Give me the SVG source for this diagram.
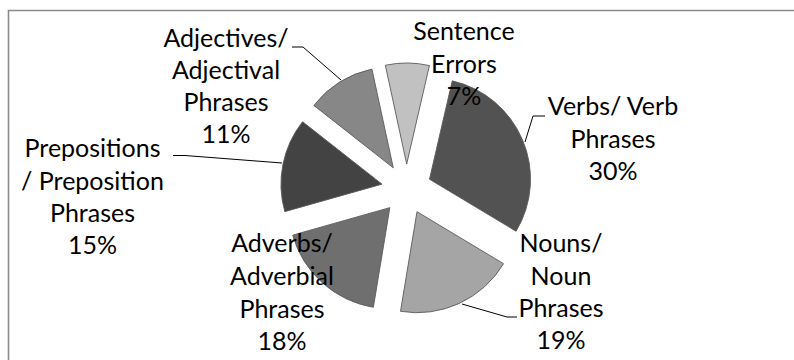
<svg xmlns="http://www.w3.org/2000/svg" width="794" height="360" viewBox="0 0 794 360">
<style>
.lbl{font-family:Lato,"Liberation Sans",sans-serif;font-size:25px;fill:#000;text-anchor:middle}
.slice{stroke:#5a5a5a;stroke-width:0.9}
.lead{fill:none;stroke:#000;stroke-width:1}
</style>
<rect width="794" height="360" fill="#fff"/>
<path d="M8.5,360 V10.5 H794" fill="none" stroke="#8a8a8a" stroke-width="1.6"/>
<g id="slice-verbs"><path class="slice" fill="#525252" d="M429.51,179.23 L452.24,80.82 A101,101 0 0 1 516.09,231.25 Z"/></g>
<g id="slice-nouns"><path class="slice" fill="#a5a5a5" d="M416.99,211.69 L503.57,263.71 A101,101 0 0 1 400.50,311.34 Z"/></g>
<g id="slice-adverbs"><path class="slice" fill="#6f6f6f" d="M389.84,207.64 L373.35,307.29 A101,101 0 0 1 292.66,235.14 Z"/></g>
<g id="slice-prepositions"><path class="slice" fill="#434343" d="M381.97,184.14 L284.79,211.64 A101,101 0 0 1 302.56,121.72 Z"/></g>
<g id="slice-adjectives"><path class="slice" fill="#878787" d="M393.25,167.8 L313.84,105.38 A101,101 0 0 1 371.91,69.08 Z"/></g>
<g id="slice-sentence"><path class="slice" fill="#c1c1c1" d="M406.68,164.0 L385.34,65.28 A101,101 0 0 1 429.41,65.59 Z"/></g>
<g id="connectors">
<path class="lead" d="M545,116 H533 L525,142"/>
<path class="lead" d="M517,317 H507 L462,304"/>
<path class="lead" d="M173,155.5 H185 L282,163"/>
<path class="lead" d="M292,47 H303 L341,80"/>
</g>
<g id="label-sentence"><text class="lbl" x="464" y="40">Sentence</text><text class="lbl" x="464" y="73">Errors</text><text class="lbl" x="464" y="105">7%</text></g>
<g id="label-verbs"><text class="lbl" x="613" y="115">Verbs/ Verb</text><text class="lbl" x="613" y="148">Phrases</text><text class="lbl" x="613" y="180">30%</text></g>
<g id="label-nouns"><text class="lbl" x="561" y="252">Nouns/</text><text class="lbl" x="561" y="285">Noun</text><text class="lbl" x="561" y="317">Phrases</text><text class="lbl" x="561" y="349">19%</text></g>
<g id="label-adverbs"><text class="lbl" x="282" y="252">Adverbs/</text><text class="lbl" x="282" y="285">Adverbial</text><text class="lbl" x="282" y="318">Phrases</text><text class="lbl" x="282" y="350">18%</text></g>
<g id="label-prepositions"><text class="lbl" x="92.5" y="157">Prepositions</text><text class="lbl" x="92.5" y="190">/ Preposition</text><text class="lbl" x="92.5" y="222">Phrases</text><text class="lbl" x="92.5" y="254">15%</text></g>
<g id="label-adjectives"><text class="lbl" x="226" y="47">Adjectives/</text><text class="lbl" x="226" y="79">Adjectival</text><text class="lbl" x="226" y="111">Phrases</text><text class="lbl" x="226" y="143">11%</text></g>
</svg>
